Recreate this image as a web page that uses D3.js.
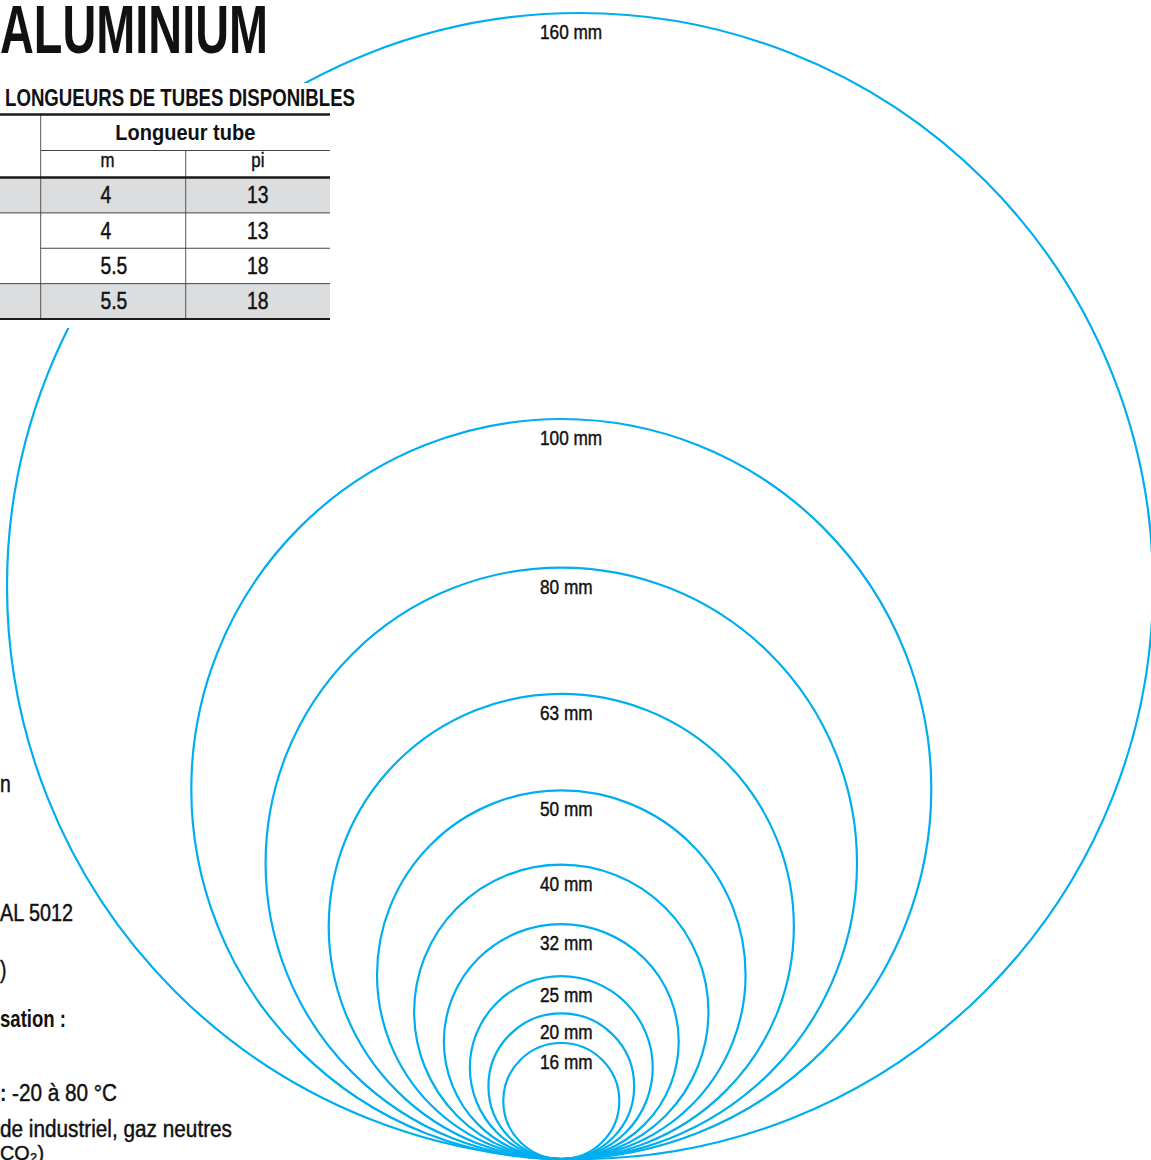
<!DOCTYPE html>
<html>
<head>
<meta charset="utf-8">
<script src="https://cdn.jsdelivr.net/npm/d3@7"></script>
<style>
  html, body { margin: 0; padding: 0; background: #ffffff; }
  svg { display: block; }
  text { font-family: 'Liberation Sans', Arial, Helvetica, sans-serif; fill: #111; }
  text.med { stroke: #111; stroke-width: 0.45px; }
</style>
</head>
<body>
<div id="chart"></div>
<script>
// ---------- data ----------
const diameters = [160, 100, 80, 63, 50, 40, 32, 25, 20, 16];   // tube outer diameters (mm)
const unit = "mm";
const title = "ALUMINIUM";
const tableTitle = "LONGUEURS DE TUBES DISPONIBLES";
const tableHeader = "Longueur tube";
const unitLabels = ["m", "pi"];
const lengthsM = ["4", "4", "5.5", "5.5"];
const lengthsFt = ["13", "13", "18", "18"];
const rowShaded = [true, false, false, true];
const sideNotes = ["n", "AL 5012", ")", "sation :", ":", "-20 à 80 °C", "de industriel, gaz neutres", "CO₂)"];
const sideNotesBold = [false, false, false, true, true, false, false, false];

// ---------- layout ----------
const W = 1151, H = 1160;
const baseY = 1159;          // common tangent line (bottom of every circle)
const cx = 561.3;            // common centre line
const topY = 13;             // highest point allowed for a circle
const blue = "#00aeef";
const K = 0.84;              // horizontal condensing of the type

const svg = d3.select("#chart").append("svg")
  .attr("width", W).attr("height", H).attr("viewBox", [0, 0, W, H]);

// condense a text selection horizontally (to a factor or an exact width)
function condense(sel, k, exact) {
  sel.each(function (d, i) {
    const w = this.getComputedTextLength();
    const e = typeof exact === "function" ? exact(d, i) : exact;
    this.setAttribute("textLength", e != null ? e : w * k);
    this.setAttribute("lengthAdjust", "spacingAndGlyphs");
  });
  return sel;
}

// radius scale (mm -> px)
const rScale = d3.scaleLinear().domain([16, 100]).range([58, 370]);
const maxR = (baseY - topY) / 2;

const circles = diameters.map(d => {
  const rawR = rScale(d);
  const r = Math.min(rawR, maxR);
  const clamped = rawR > maxR;
  const x = clamped ? W + 2 - r : cx;   // oversized circle pushed against right edge
  return { d, r, x, y: baseY - r };
});

const gC = svg.append("g");
gC.selectAll("circle").data(circles).join("circle")
  .attr("cx", c => c.x).attr("cy", c => c.y).attr("r", c => c.r)
  .attr("fill", "none").attr("stroke", blue).attr("stroke-width", 2.2);

condense(gC.selectAll("text").data(circles).join("text")
  .attr("class", "med")
  .attr("x", cx - 21.3)
  .attr("y", c => c.y - c.r + 26)
  .attr("font-size", 20.5)
  .text(c => `${c.d} ${unit}`), K);

// ---------- page text (left) ----------
condense(svg.append("text")
  .attr("x", 0).attr("y", 53)
  .attr("font-size", 68).attr("font-weight", "bold")
  .text(title), K, 268);

// white panel that masks the big circle behind the table
svg.append("rect").attr("x", 0).attr("y", 83).attr("width", 340).attr("height", 245).attr("fill", "#fff");

condense(svg.append("text")
  .attr("x", 5).attr("y", 106)
  .attr("font-size", 24).attr("font-weight", "bold")
  .text(tableTitle), K, 350);

// table
const tX0 = 0, tX1 = 40.7, tX2 = 185.7, tX3 = 330;
const rowY = d3.scaleBand().domain(d3.range(lengthsM.length)).range([177.5, 319]);
const gT = svg.append("g");

gT.selectAll("rect.row").data(lengthsM).join("rect")
  .attr("class", "row")
  .attr("x", tX0).attr("width", tX3 - tX0)
  .attr("y", (d, i) => rowY(i)).attr("height", rowY.bandwidth())
  .attr("fill", (d, i) => rowShaded[i] ? "#dcdddf" : "#fff");

function hline(y, x0, x1, w, col) {
  gT.append("line").attr("x1", x0).attr("x2", x1).attr("y1", y).attr("y2", y)
    .attr("stroke", col).attr("stroke-width", w);
}
function vline(x, y0, y1) {
  gT.append("line").attr("x1", x).attr("x2", x).attr("y1", y0).attr("y2", y1)
    .attr("stroke", "#555").attr("stroke-width", 1);
}
vline(tX1, 114, 319);
vline(tX2, 150, 319);
hline(114.5, tX0, tX3, 2.5, "#1a1a1a");
hline(150.5, tX1, tX3, 1, "#444");
hline(177.5, tX0, tX3, 2.5, "#1a1a1a");
d3.range(1, lengthsM.length).forEach(i => {
  const merged = (i === 2); // first column cell spans rows 2 and 3
  hline(rowY(i), merged ? tX1 : tX0, tX3, 1, "#444");
});
hline(319, tX0, tX3, 2, "#1a1a1a");

condense(gT.append("text").attr("x", (tX1 + tX3) / 2).attr("y", 140)
  .attr("text-anchor", "middle").attr("font-size", 22).attr("font-weight", "bold")
  .text(tableHeader), K, 140);
condense(gT.append("text").attr("class", "med").attr("x", 100.5).attr("y", 167)
  .attr("font-size", 20).text(unitLabels[0]), K);
condense(gT.append("text").attr("class", "med").attr("x", (tX2 + tX3) / 2).attr("y", 167)
  .attr("text-anchor", "middle").attr("font-size", 20).text(unitLabels[1]), K);

condense(gT.selectAll("text.m").data(lengthsM).join("text")
  .attr("class", "m med")
  .attr("x", 100.5).attr("y", (d, i) => rowY(i) + rowY.bandwidth() / 2 + 8)
  .attr("font-size", 23).text(d => d), K);
condense(gT.selectAll("text.ft").data(lengthsFt).join("text")
  .attr("class", "ft med")
  .attr("x", (tX2 + tX3) / 2).attr("y", (d, i) => rowY(i) + rowY.bandwidth() / 2 + 8)
  .attr("text-anchor", "middle")
  .attr("font-size", 23).text(d => d), K);

// side notes (only the parts visible at the page's left edge)
const noteX = [0, 0, 0, 0, 0, 12, 0, 0];
const noteY = [792, 921, 978, 1027, 1101, 1101, 1137, 1160];
const noteW = [null, 73, null, 66, null, 105, 232, 44];
const gN = svg.append("g").attr("font-size", 23);
condense(gN.selectAll("text").data(sideNotes).join("text")
  .attr("class", (d, i) => sideNotesBold[i] ? null : "med")
  .attr("x", (d, i) => noteX[i]).attr("y", (d, i) => noteY[i])
  .attr("font-size", (d, i) => i === sideNotes.length - 1 ? 21 : 23)
  .attr("font-weight", (d, i) => sideNotesBold[i] ? "bold" : "normal")
  .text(d => d), K, (d, i) => noteW[i]);
</script>
</body>
</html>
